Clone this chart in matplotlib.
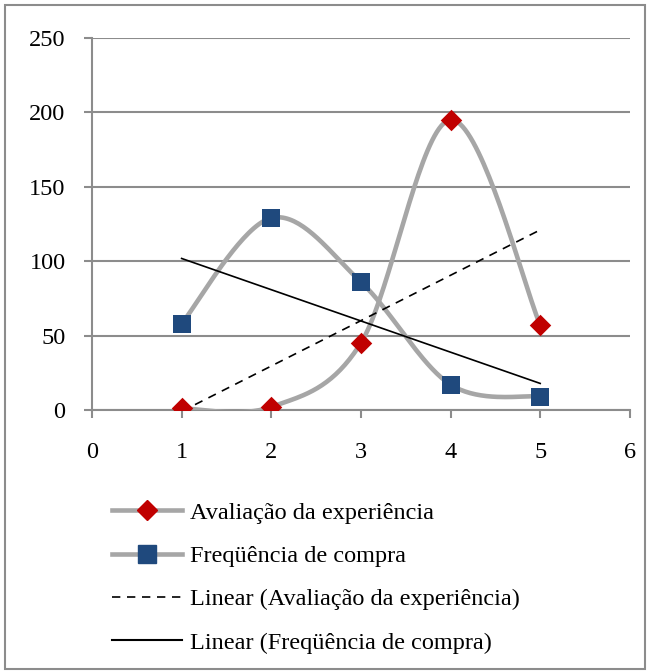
import numpy as np
import matplotlib
matplotlib.use("Agg")
import matplotlib.pyplot as plt
from matplotlib.lines import Line2D
from matplotlib.patches import Rectangle

x = [1, 2, 3, 4, 5]
avaliacao = [1, 2, 45, 195, 57]
frequencia = [58, 129, 86, 17, 9]

lbl_aval = "Avaliação da experiência"
lbl_freq = "Freqüência de compra"

plt.rcParams["font.family"] = ["Liberation Serif", "DejaVu Serif"]


def smooth(xs, ys, n=40):
    """Cardinal (Catmull-Rom style) bezier through the points."""
    p = np.column_stack([xs, ys]).astype(float)
    pts = np.vstack([p[0], p, p[-1]])
    out = []
    t = np.linspace(0, 1, n)[:, None]
    for i in range(1, len(pts) - 2):
        p0, p1, p2, p3 = pts[i - 1], pts[i], pts[i + 1], pts[i + 2]
        c1 = p1 + (p2 - p0) / 6
        c2 = p2 - (p3 - p1) / 6
        seg = ((1 - t) ** 3 * p1 + 3 * (1 - t) ** 2 * t * c1
               + 3 * (1 - t) * t ** 2 * c2 + t ** 3 * p2)
        out.append(seg if i == 1 else seg[1:])
    seg = np.vstack(out)
    return seg[:, 0], seg[:, 1]


def trend(xs, ys):
    k, b = np.polyfit(xs, ys, 1)
    xx = np.array([xs[0], xs[-1]], dtype=float)
    return xx, k * xx + b


fig = plt.figure(figsize=(6.5, 6.72), dpi=100)
fig.patches.append(Rectangle((0.008, 0.004), 0.984, 0.988, transform=fig.transFigure,
                             fill=False, edgecolor="#8c8c8c", linewidth=1.5))
ax = fig.add_axes([0.1415, 0.39, 0.8275, 0.5535])

grid_c = "#8c8c8c"
line_c = "#a6a6a6"
red = "#c00000"
blue = "#1f497d"

sx, sy = smooth(x, avaliacao)
ax.plot(sx, sy, color=line_c, lw=3.3, zorder=3, solid_capstyle="round")
sx, sy = smooth(x, frequencia)
ax.plot(sx, sy, color=line_c, lw=3.3, zorder=3, solid_capstyle="round")

tx, ty = trend(x, avaliacao)
ax.plot(tx, ty, color="black", lw=1.2, ls=(0, (5, 4)), zorder=4)
tx, ty = trend(x, frequencia)
ax.plot(tx, ty, color="black", lw=1.2, zorder=4)

ax.scatter(x, avaliacao, marker="D", s=120, color=red, zorder=5, linewidths=0)
ax.scatter(x, frequencia, marker="s", s=160, color=blue, zorder=5, linewidths=0)

ax.set_xlim(0, 6)
ax.set_ylim(0, 250)
ax.set_xticks(range(0, 7))
ax.set_yticks(range(0, 251, 50))
ax.yaxis.grid(True, color=grid_c, lw=1.5)
ax.set_axisbelow(True)
for s in ("top", "right"):
    ax.spines[s].set_visible(False)
for s in ("left", "bottom"):
    ax.spines[s].set_color(grid_c)
    ax.spines[s].set_linewidth(1.5)
ax.tick_params(axis="both", colors=grid_c, width=1.5, length=6, labelsize=17.5,
               labelcolor="black")
ax.tick_params(axis="y", pad=13)
ax.tick_params(axis="x", pad=17)

handles = [
    Line2D([], [], color=line_c, lw=3.3, marker="D", ms=10, mfc=red, mec=red),
    Line2D([], [], color=line_c, lw=3.3, marker="s", ms=12.5, mfc=blue, mec=blue),
    Line2D([], [], color="black", lw=1.2, ls=(0, (5, 4))),
    Line2D([], [], color="black", lw=1.5),
]
labels = [lbl_aval, lbl_freq, "Linear (" + lbl_aval + ")", "Linear (" + lbl_freq + ")"]
fig.legend(handles, labels, loc="upper left", bbox_to_anchor=(0.157, 0.268),
           frameon=False, fontsize=17.5, handlelength=2.9, handletextpad=0.3,
           labelspacing=0.88, borderaxespad=0)

fig.savefig("out.png", dpi=100)
